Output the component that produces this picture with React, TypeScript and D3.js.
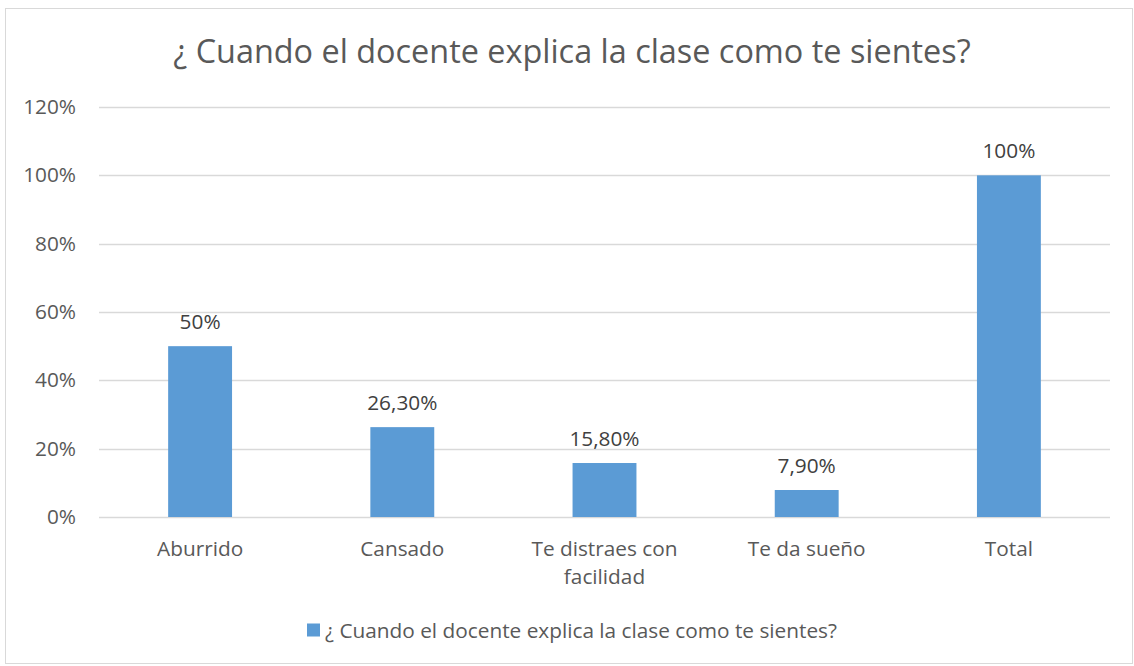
import React from "react";
import * as d3 from "d3";

const categories = ["Aburrido", "Cansado", "Te distraes con facilidad", "Te da sueño", "Total"];
const values = [0.5, 0.263, 0.158, 0.079, 1.0];
const valueLabels = ["50%", "26,30%", "15,80%", "7,90%", "100%"];
const yTicks = [0, 0.2, 0.4, 0.6, 0.8, 1.0, 1.2];
const seriesName = "¿ Cuando el docente explica la clase como te sientes?";
const titleText = "¿ Cuando el docente explica la clase como te sientes?";

const W = 1134;
const H = 666;
const plot = { left: 99, right: 1110, top: 107, bottom: 517 };
const FONT = "'Open Sans', sans-serif";
const TEXT = "#595959";
const BAR = "#5B9BD5";
const LBL = 20.8;
const TTL = 32.4;

function wrapLabel(s: string): string[] {
  if (s === "Te distraes con facilidad") return ["Te distraes con", "facilidad"];
  return [s];
}

export default function App() {
  const x = d3.scaleBand<string>().domain(categories).range([plot.left, plot.right]).paddingInner(0.684).paddingOuter(0.342);
  const y = d3.scaleLinear().domain([0, 1.2]).range([plot.bottom, plot.top]);
  const fmt = d3.format(".0%");
  return (
    <svg width={W} height={H} style={{ position: "absolute", left: 0, top: 0 }} fontFamily={FONT}>
      <rect x={0} y={0} width={W} height={H} fill="#fff" />
      <rect x={5.5} y={8.5} width={1127} height={655} fill="#fff" stroke="#D9D9D9" strokeWidth={1} />
      <text x={572} y={63} textAnchor="middle" fontSize={TTL} fill={TEXT}>{titleText}</text>
      {yTicks.map((t) => (
        <g key={t}>
          <line x1={plot.left} x2={plot.right} y1={Math.round(y(t)) + 0.5} y2={Math.round(y(t)) + 0.5} stroke="#D9D9D9" strokeWidth={1.3} />
          <text x={76} y={y(t) + 7} textAnchor="end" fontSize={LBL} fill={TEXT}>{fmt(t)}</text>
        </g>
      ))}
      {categories.map((c, i) => {
        const bx = x(c)!;
        const bw = x.bandwidth();
        const cx = bx + bw / 2;
        return (
          <g key={c}>
            <rect x={bx} y={y(values[i])} width={bw} height={plot.bottom - y(values[i])} fill={BAR} />
            <text x={cx} y={y(values[i]) - 17} textAnchor="middle" fontSize={LBL} fill="#404040">{valueLabels[i]}</text>
            {wrapLabel(c).map((line, j) => (
              <text key={j} x={cx} y={556 + j * 28} textAnchor="middle" fontSize={LBL} fill={TEXT}>{line}</text>
            ))}
          </g>
        );
      })}
      <rect x={307} y={623.5} width={13} height={13} fill={BAR} />
      <text x={325} y={638} fontSize={LBL} fill={TEXT}>{seriesName}</text>
    </svg>
  );
}
